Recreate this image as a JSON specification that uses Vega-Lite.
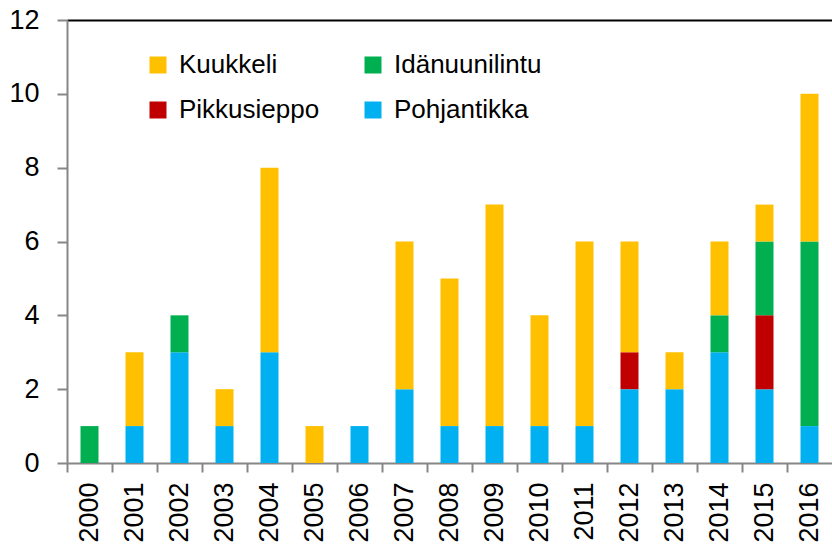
{
  "$schema": "https://vega.github.io/schema/vega-lite/v6.json",
  "width": 765,
  "height": 443,
  "autosize": {"type": "none"},
  "padding": {"left": 67, "top": 20, "right": 0, "bottom": 82},
  "background": "white",
  "config": {"view": {"stroke": null}, "font": "Liberation Sans"},
  "data": {"values": [
    {"vuosi": "2000", "laji": "Idänuunilintu", "maara": 1},
    {"vuosi": "2001", "laji": "Pohjantikka", "maara": 1},
    {"vuosi": "2001", "laji": "Kuukkeli", "maara": 2},
    {"vuosi": "2002", "laji": "Pohjantikka", "maara": 3},
    {"vuosi": "2002", "laji": "Idänuunilintu", "maara": 1},
    {"vuosi": "2003", "laji": "Pohjantikka", "maara": 1},
    {"vuosi": "2003", "laji": "Kuukkeli", "maara": 1},
    {"vuosi": "2004", "laji": "Pohjantikka", "maara": 3},
    {"vuosi": "2004", "laji": "Kuukkeli", "maara": 5},
    {"vuosi": "2005", "laji": "Kuukkeli", "maara": 1},
    {"vuosi": "2006", "laji": "Pohjantikka", "maara": 1},
    {"vuosi": "2007", "laji": "Pohjantikka", "maara": 2},
    {"vuosi": "2007", "laji": "Kuukkeli", "maara": 4},
    {"vuosi": "2008", "laji": "Pohjantikka", "maara": 1},
    {"vuosi": "2008", "laji": "Kuukkeli", "maara": 4},
    {"vuosi": "2009", "laji": "Pohjantikka", "maara": 1},
    {"vuosi": "2009", "laji": "Kuukkeli", "maara": 6},
    {"vuosi": "2010", "laji": "Pohjantikka", "maara": 1},
    {"vuosi": "2010", "laji": "Kuukkeli", "maara": 3},
    {"vuosi": "2011", "laji": "Pohjantikka", "maara": 1},
    {"vuosi": "2011", "laji": "Kuukkeli", "maara": 5},
    {"vuosi": "2012", "laji": "Pohjantikka", "maara": 2},
    {"vuosi": "2012", "laji": "Pikkusieppo", "maara": 1},
    {"vuosi": "2012", "laji": "Kuukkeli", "maara": 3},
    {"vuosi": "2013", "laji": "Pohjantikka", "maara": 2},
    {"vuosi": "2013", "laji": "Kuukkeli", "maara": 1},
    {"vuosi": "2014", "laji": "Pohjantikka", "maara": 3},
    {"vuosi": "2014", "laji": "Idänuunilintu", "maara": 1},
    {"vuosi": "2014", "laji": "Kuukkeli", "maara": 2},
    {"vuosi": "2015", "laji": "Pohjantikka", "maara": 2},
    {"vuosi": "2015", "laji": "Pikkusieppo", "maara": 2},
    {"vuosi": "2015", "laji": "Idänuunilintu", "maara": 2},
    {"vuosi": "2015", "laji": "Kuukkeli", "maara": 1},
    {"vuosi": "2016", "laji": "Pohjantikka", "maara": 1},
    {"vuosi": "2016", "laji": "Idänuunilintu", "maara": 5},
    {"vuosi": "2016", "laji": "Kuukkeli", "maara": 4}
  ]},
  "transform": [
    {"calculate": "indexof(['Pohjantikka','Pikkusieppo','Idänuunilintu','Kuukkeli'], datum.laji)", "as": "jarjestys"}
  ],
  "mark": {"type": "bar", "width": 18},
  "encoding": {
    "x": {
      "field": "vuosi", "type": "ordinal", "title": null,
      "scale": {"paddingInner": 0, "paddingOuter": 0},
      "axis": {
        "bandPosition": 0,
        "labelAngle": -90, "labelAlign": "right", "labelBaseline": "middle",
        "labelFontSize": 27, "labelColor": "black", "labelPadding": 10,
        "tickSize": 9, "tickColor": "#868686", "tickWidth": 2,
        "domainColor": "#868686", "domainWidth": 2
      }
    },
    "y": {
      "field": "maara", "type": "quantitative", "aggregate": "sum", "title": null,
      "stack": "zero",
      "scale": {"domain": [0, 12], "nice": false},
      "axis": {
        "values": [0, 2, 4, 6, 8, 10, 12],
        "labelFontSize": 27, "labelColor": "black", "labelPadding": 18,
        "tickSize": 10, "tickColor": "#868686", "tickWidth": 2,
        "domainColor": "#868686", "domainWidth": 2,
        "grid": true,
        "gridColor": {"condition": {"test": "datum.value == 12", "value": "black"}, "value": null},
        "gridWidth": 2
      }
    },
    "color": {
      "field": "laji", "type": "nominal",
      "scale": {
        "domain": ["Kuukkeli", "Pikkusieppo", "Idänuunilintu", "Pohjantikka"],
        "range": ["#FFC000", "#C00000", "#00B050", "#00B0F0"]
      },
      "legend": {
        "title": null, "orient": "none", "legendX": 78, "legendY": 32,
        "columns": 2, "columnPadding": 40, "rowPadding": 19,
        "symbolType": "square", "symbolSize": 289, "symbolStrokeWidth": 0,
        "labelFontSize": 26, "labelColor": "black", "labelOffset": 8, "labelLimit": 400
      }
    },
    "order": {"field": "jarjestys", "type": "quantitative", "aggregate": "min"}
  }
}
